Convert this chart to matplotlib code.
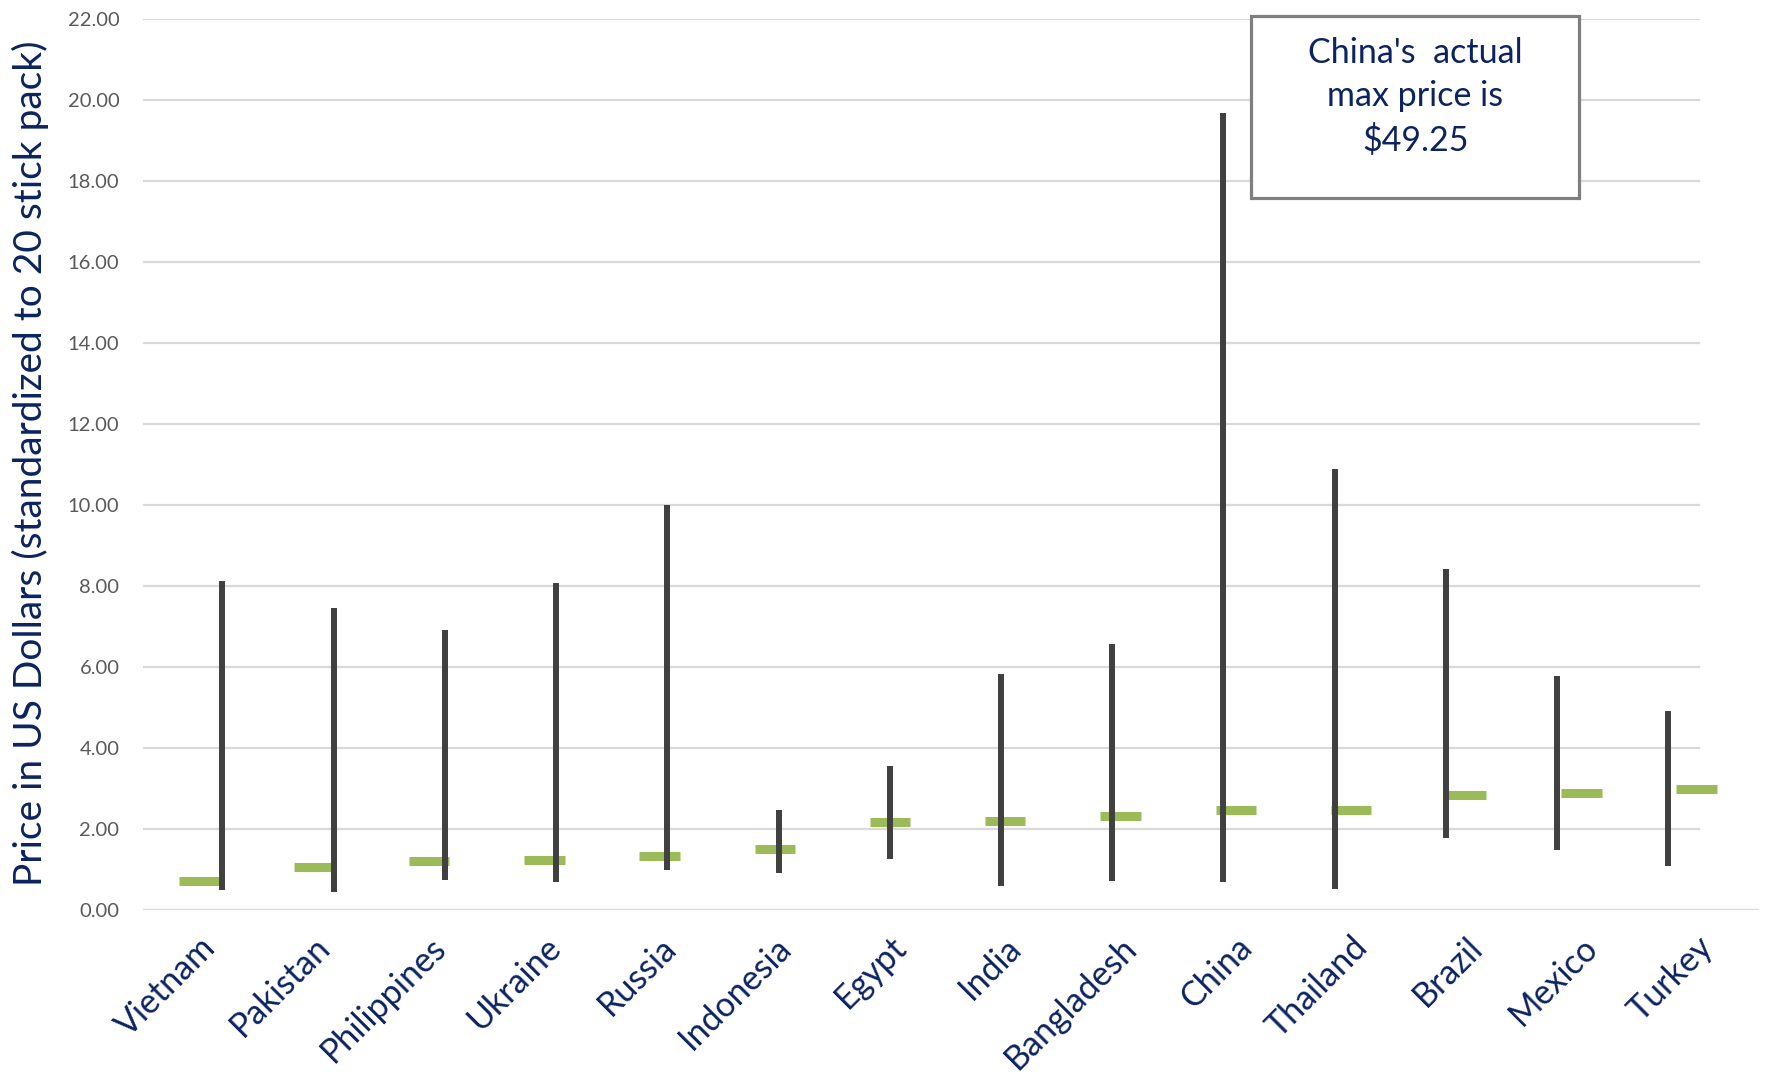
import matplotlib
matplotlib.use("Agg")
from matplotlib import pyplot as plt
from matplotlib.patches import Rectangle

plt.rcParams["font.family"] = ["Lato", "DejaVu Sans"]

countries = ["Vietnam", "Pakistan", "Philippines", "Ukraine", "Russia", "Indonesia", "Egypt",
             "India", "Bangladesh", "China", "Thailand", "Brazil", "Mexico", "Turkey"]
price_max = [8.13, 7.45, 6.92, 8.08, 10.01, 2.48, 3.56, 5.83, 6.56, 19.68, 10.90, 8.42, 5.78, 4.91]
price_min = [0.50, 0.45, 0.73, 0.69, 0.99, 0.92, 1.25, 0.59, 0.72, 0.69, 0.51, 1.78, 1.49, 1.09]
price_mean = [0.72, 1.06, 1.21, 1.23, 1.33, 1.51, 2.17, 2.19, 2.33, 2.47, 2.48, 2.84, 2.90, 2.98]
y_ticks = [0, 2, 4, 6, 8, 10, 12, 14, 16, 18, 20, 22]
note = "China's  actual\nmax price is\n$49.25"

navy = "#0B2360"
green = "#9BBB59"
dark = "#404040"
grid_col = "#D9D9D9"

fig = plt.figure(figsize=(17.7, 10.79), dpi=100)
ax = fig.add_axes([0.0808, 0.1566, 0.913, 0.8255])
xs = list(range(len(countries)))

# mean markers + category labels on the main axis
ax.set_xlim(-0.4835, 13.542)
ax.set_ylim(0, 22)
ax.hlines(price_mean, [x - 0.175 for x in xs], [x + 0.175 for x in xs],
          colors=green, linewidth=6.5, zorder=3)
for t in y_ticks:
    ax.axhline(t, xmin=0, xmax=1.0 if t == 0 else 0.963, color=grid_col, lw=1.6, zorder=1)

ax.set_xticks(xs)
ax.set_xticklabels(countries, rotation=45, ha="right", rotation_mode="anchor",
                   fontsize=24.5, color=navy)
ax.set_yticks(y_ticks)
ax.set_yticklabels([f"{t:.2f}" for t in y_ticks], fontsize=14.5, color="#595959")
ax.tick_params(axis="both", length=0)
ax.tick_params(axis="y", pad=17)
ax.tick_params(axis="x", pad=15)
for s in ax.spines.values():
    s.set_visible(False)

# min-max range lines sit on their own x scale
ax_l = ax.twiny()
ax_l.set_xlim(-0.714, 13.815)
ax_l.vlines(xs, price_min, price_max, colors=dark, linewidth=4.3, zorder=4)
ax_l.set_xticks([])
for s in ax_l.spines.values():
    s.set_visible(False)

fig.text(0.017, 0.571, "Price in US Dollars (standardized to 20 stick pack)", rotation=90,
         ha="center", va="center", fontsize=28, color=navy)

box = Rectangle((0.7068, 0.8165), 0.1853, 0.1687, transform=fig.transFigure,
                facecolor="white", edgecolor="#7F7F7F", linewidth=2.3, zorder=10)
fig.patches.append(box)
fig.text(0.7995, 0.910, note, ha="center", va="center", fontsize=24.5, color=navy,
         linespacing=1.42, zorder=11)

fig.savefig("out.png", dpi=100)
